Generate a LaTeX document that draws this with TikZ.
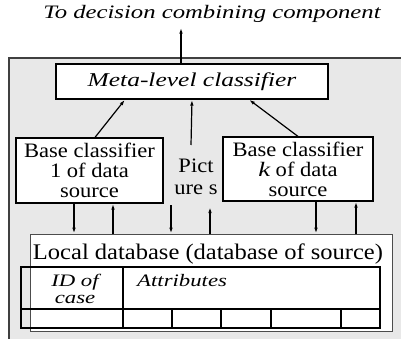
\documentclass[tikz,border=0pt]{standalone}
\usepackage{fontspec}
\setmainfont{Liberation Serif}[UprightFeatures={FakeStretch=1.1}, ItalicFeatures={FakeStretch=1.3}]
\usetikzlibrary{arrows.meta}
\definecolor{panelgray}{RGB}{232,232,232}

\tikzset{
	box/.style={draw, line width=1.2pt, fill=white, inner sep=0pt},
	arr/.style={-{Latex[length=6pt,width=3.5pt]}, line width=1.2pt},
	grid/.style={line width=2.4pt},
	big/.style={font=\fontsize{20.5}{20}\selectfont, align=center, inner sep=0pt},
}

\begin{document}
\begin{tikzpicture}[x=1pt,y=-1pt]
		\useasboundingbox (0,0) rectangle (401,339);
		%draw gray panel
		\begin{scope}
			\clip (0,0) rectangle (401,339);
			\draw[fill=panelgray, draw=black!75, line width=1.2pt] (9,58) rectangle (420,360);
		\end{scope}
		%draw title
		\node[big, font=\fontsize{19}{19}\selectfont\itshape, outer sep=5pt] (title) at (212,14) {To decision combining component};
		%draw classifier boxes
		\node[box, big, font=\fontsize{19.6}{19}\selectfont\itshape, minimum width=272pt, minimum height=35pt] (meta) at (192,81.5) {Meta-level classifier};
		\node[box, big, minimum width=147pt, minimum height=65pt] (base1) at (89.5,170.5) {Base classifier\\1 of data\\source};
		\node[box, big, minimum width=150pt, minimum height=64pt] (basek) at (298,169) {Base classifier\\{\itshape k} of data\\source};
		\node[big, font=\fontsize{20.5}{22}\selectfont] (pict) at (196,177) {Pict\\ure s};
		%draw local database
		\node[box, line width=0.8pt, draw=black!70, minimum width=362pt, minimum height=97pt] (db) at (211,282.5) {};
		\node[big, font=\fontsize{22.3}{20}\selectfont, anchor=base] (dbname) at (208,259) {Local database (database of source)};
		%draw table
		\draw[grid] (21,267) rectangle (380,328);
		\draw[grid] (21,309) -- (380,309);
		\draw[grid] (123,267) -- (123,328);
		\foreach \x in {172,221,271,341}{
			\draw[grid] (\x,309) -- (\x,328);
		}
		\node[big, font=\fontsize{17.5}{17}\selectfont\itshape] (idcase) at (75,289) {ID of\\case};
		\node[big, font=\fontsize{17.5}{17}\selectfont\itshape, anchor=base west] (attr) at (137,286) {Attributes};
		%draw arrows to meta-level classifier
		\coordinate (p0) at (191,145);
		\draw[arr] ([xshift=5.5pt]base1.north) -- ([xshift=-67pt]meta.south);
		\draw[arr] (p0) -- (meta.south);
		\draw[arr] (basek.north) -- ([xshift=57pt]meta.south);
		\draw[arr] ([xshift=-11pt]meta.north) -- ([xshift=-11pt]meta.north |- title.south);
		%draw arrows to and from database
		\coordinate (m1) at (171,205);
		\coordinate (m2) at (210,207);
		\draw[arr] ([xshift=-15.5pt]base1.south) -- ([xshift=-15.5pt]base1.south |- db.north);
		\draw[arr] ([xshift=23.5pt]base1.south |- db.north) -- ([xshift=23.5pt]base1.south);
		\draw[arr] (m1) -- (m1 |- db.north);
		\draw[arr] (m2 |- db.north) -- (m2);
		\draw[arr] ([xshift=18pt]basek.south) -- ([xshift=18pt]basek.south |- db.north);
		\draw[arr] ([xshift=58pt]basek.south |- db.north) -- ([xshift=58pt]basek.south);
\end{tikzpicture}
\end{document}
